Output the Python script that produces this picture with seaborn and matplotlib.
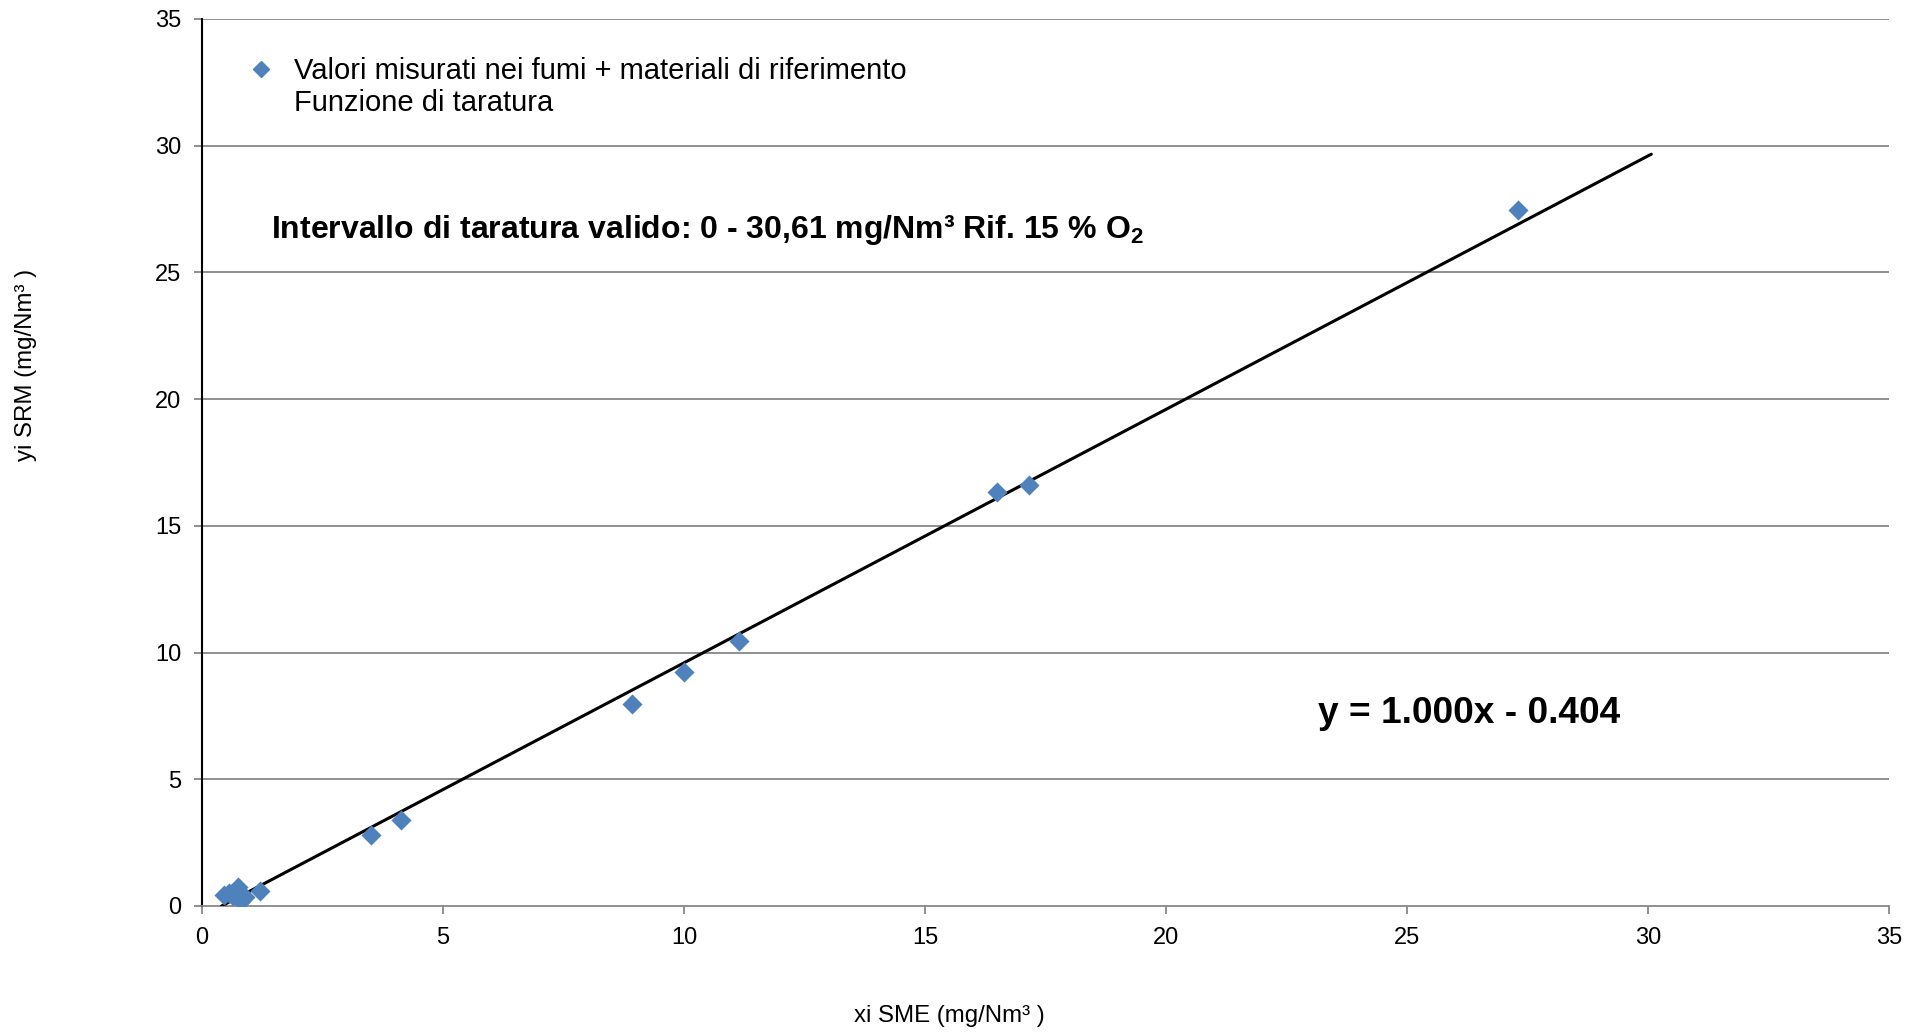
import matplotlib
matplotlib.use("Agg")
import matplotlib.pyplot as plt
from matplotlib.lines import Line2D
import seaborn as sns
import pandas as pd

# ---- data ----
xi_sme = [0.45, 0.55, 0.65, 0.75, 0.80, 0.90, 1.20, 3.51, 4.12, 8.92, 9.99, 11.13, 16.50, 17.16, 27.30]
yi_srm = [0.45, 0.50, 0.40, 0.75, 0.20, 0.35, 0.58, 2.80, 3.38, 7.97, 9.23, 10.44, 16.34, 16.63, 27.45]
slope = 1.000
intercept = -0.404
fit_x = [0.404, 30.07]
fit_y = [slope * v + intercept for v in fit_x]
ticks = [0, 5, 10, 15, 20, 25, 30, 35]

series_label = "Valori misurati nei fumi + materiali di riferimento"
fit_label = "Funzione di taratura"
range_text = r"Intervallo di taratura valido: 0 - 30,61 mg/Nm³ Rif. 15 % O$_\mathbf{2}$"
eq_text = "y = 1.000x - 0.404"

sns.set_theme(style="white")
plt.rcParams["font.family"] = ["Liberation Sans", "DejaVu Sans"]
plt.rcParams["mathtext.fontset"] = "custom"
plt.rcParams["mathtext.rm"] = "Liberation Sans"
plt.rcParams["mathtext.bf"] = "Liberation Sans:bold"
plt.rcParams["text.color"] = "black"
plt.rcParams["axes.labelcolor"] = "black"

fig = plt.figure(figsize=(19.21, 10.32), dpi=100)
ax = fig.add_axes([0.1052, 0.1221, 0.8781, 0.8595])

df = pd.DataFrame({"x": xi_sme, "y": yi_srm})
dfl = pd.DataFrame({"x": fit_x, "y": fit_y})

grid_c = "#878787"
for t in ticks[1:]:
    ax.axhline(t, color=grid_c, lw=1.3, zorder=0)

sns.lineplot(data=dfl, x="x", y="y", ax=ax, color="black", lw=2.2, zorder=3)
sns.scatterplot(data=df, x="x", y="y", ax=ax, marker="D", s=105, color="#4F81BD",
                edgecolor="#4F81BD", linewidth=0, zorder=4)

ax.set_xlim(0, 35)
ax.set_ylim(0, 35)
ax.set_xticks(ticks)
ax.set_yticks(ticks)
ax.tick_params(axis="both", labelsize=17, colors=grid_c, labelcolor="black",
               length=6, width=1.3, direction="out", bottom=True, left=True)
ax.tick_params(axis="x", pad=9)
ax.tick_params(axis="y", pad=9)
for s in ["top", "right"]:
    ax.spines[s].set_visible(False)
ax.spines["left"].set_color("black")
ax.spines["left"].set_linewidth(1.5)
ax.spines["bottom"].set_color(grid_c)
ax.spines["bottom"].set_linewidth(1.3)

ax.set_xlabel("xi SME (mg/Nm³ )", fontsize=17.3)
ax.set_ylabel("yi SRM (mg/Nm³ )", fontsize=17.3)
ax.xaxis.set_label_coords(0.443, -0.112)
ax.yaxis.set_label_coords(-0.098, 0.61)

ax.text(1.42, 26.68, range_text, fontsize=23, fontweight="bold", va="center", ha="left")
ax.text(23.16, 7.59, eq_text, fontsize=26.7, fontweight="bold", va="center", ha="left")

handles = [
    Line2D([], [], marker="D", linestyle="none", color="#4F81BD", markersize=8.5),
    Line2D([], [], linestyle="none"),
]
ax.legend(handles, [series_label, fit_label], loc="upper left",
          bbox_to_anchor=(0.0053, 0.987), frameon=False, fontsize=21,
          handlelength=1.6, handletextpad=0.35, labelspacing=0.15)

fig.savefig("out.png", dpi=100)
